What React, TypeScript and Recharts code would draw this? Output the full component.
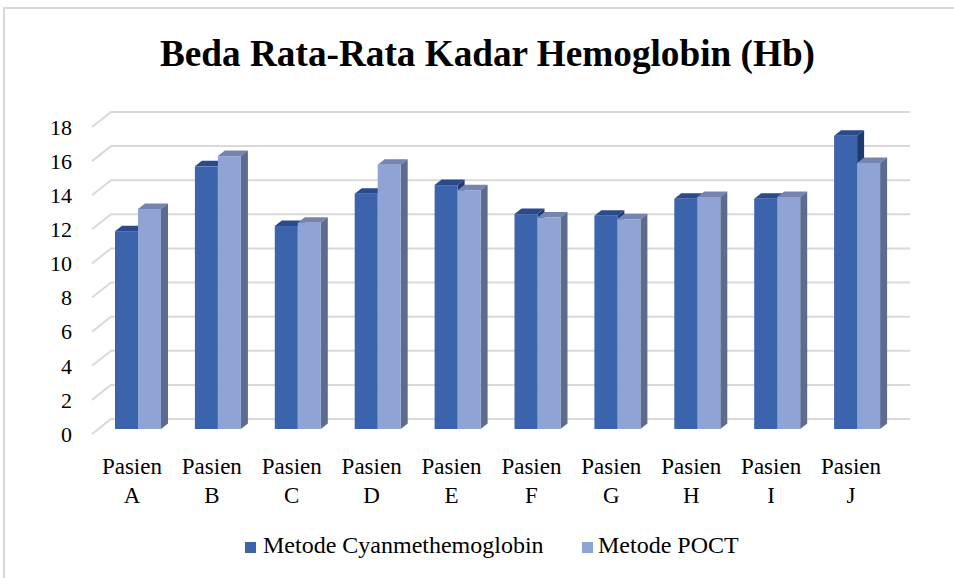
import { BarChart, Bar, XAxis, YAxis, CartesianGrid } from 'recharts';

const patients = ['A', 'B', 'C', 'D', 'E', 'F', 'G', 'H', 'I', 'J'];
const cyanmethemoglobin = [11.6, 15.4, 11.9, 13.8, 14.3, 12.6, 12.5, 13.5, 13.5, 17.2];
const poct = [12.9, 16.0, 12.1, 15.5, 14.0, 12.4, 12.3, 13.6, 13.6, 15.6];
const yTicks = [0, 2, 4, 6, 8, 10, 12, 14, 16, 18];
const seriesNames = ['Metode Cyanmethemoglobin', 'Metode POCT'];

const data = patients.map((p, i) => ({
  name: `Pasien ${p}`,
  cyan: cyanmethemoglobin[i],
  poct: poct[i],
}));

const FONT = '"Liberation Serif", "Times New Roman", serif';

// fake 3d: columns sit a bit behind the front plane
const SHIFT_X = 6;
const SHIFT_Y = 5;
const DEPTH_X = 7;
const DEPTH_Y = 5.5;
// back wall offset for gridlines
const WALL_X = 19;
const WALL_Y = 15;

function column(front: string, top: string, side: string) {
  return (props: any) => {
    const { x, y, width, height } = props;
    const fx = x + SHIFT_X;
    const fy = y - SHIFT_Y;
    return (
      <g>
        <polygon
          points={`${fx},${fy} ${fx + DEPTH_X},${fy - DEPTH_Y} ${fx + width + DEPTH_X},${fy - DEPTH_Y} ${fx + width},${fy}`}
          fill={top}
        />
        <polygon
          points={`${fx + width},${fy} ${fx + width + DEPTH_X},${fy - DEPTH_Y} ${fx + width + DEPTH_X},${fy + height - DEPTH_Y} ${fx + width},${fy + height}`}
          fill={side}
        />
        <rect x={fx} y={fy} width={width} height={height} fill={front} />
      </g>
    );
  };
}

const wallLine = (props: any) => {
  const { x1, y1, x2 } = props;
  return (
    <path
      key={`wall-${y1}`}
      d={`M${x1},${y1} L${x1 + WALL_X},${y1 - WALL_Y} L${x2 + WALL_X},${y1 - WALL_Y}`}
      stroke="#d9d9d9"
      strokeWidth={2}
      fill="none"
    />
  );
};

const CategoryTick = (props: any) => {
  const { x, y, payload } = props;
  const [word, letter] = String(payload.value).split(' ');
  return (
    <g>
      <text x={x} y={y + 40} textAnchor="middle" fontSize={23} fontFamily={FONT} fill="#000">
        {word}
      </text>
      <text x={x} y={y + 69} textAnchor="middle" fontSize={23} fontFamily={FONT} fill="#000">
        {letter}
      </text>
    </g>
  );
};

export default function App() {
  return (
    <div style={{ position: 'fixed', left: 0, top: 0, width: 954, height: 578, overflow: 'hidden', background: '#fff' }}>
      <div
        style={{
          position: 'absolute',
          left: 3,
          top: 7,
          width: 1000,
          height: 1000,
          border: '2px solid #d9d9d9',
        }}
      />
      <svg width={954} height={578} style={{ position: 'absolute', left: 0, top: 0 }}>
        <text
          x={487.5}
          y={66}
          textAnchor="middle"
          fontSize={38}
          fontWeight="bold"
          fontFamily={FONT}
          textLength={655}
          lengthAdjust="spacingAndGlyphs"
          fill="#000"
        >
          Beda Rata-Rata Kadar Hemoglobin (Hb)
        </text>
        <rect x={245} y={542} width={11} height={11} fill="#3c64ad" />
        <text x={263} y={553} fontSize={24} fontFamily={FONT} fill="#000">
          {seriesNames[0]}
        </text>
        <rect x={582} y={542} width={11} height={11} fill="#8fa3d5" />
        <text x={598} y={553} fontSize={24} fontFamily={FONT} fill="#000">
          {seriesNames[1]}
        </text>
      </svg>
      <div style={{ position: 'absolute', left: 0, top: 0 }}>
        <BarChart
          width={954}
          height={578}
          data={data}
          margin={{ top: 127, right: 63, bottom: 104, left: 0 }}
          barSize={23}
          barGap={0}
        >
          <CartesianGrid vertical={false} horizontal={wallLine} />
          <XAxis
            dataKey="name"
            height={40}
            axisLine={false}
            tickLine={false}
            tickSize={0}
            tickMargin={0}
            interval={0}
            tick={<CategoryTick />}
          />
          <YAxis
            width={92}
            domain={[0, 18]}
            ticks={yTicks}
            axisLine={false}
            tickLine={false}
            tickSize={0}
            tickMargin={20}
            tick={{ fill: '#000', fontSize: 22, fontFamily: FONT }}
          />
          <Bar
            dataKey="cyan"
            name={seriesNames[0]}
            fill="#3c64ad"
            isAnimationActive={false}
            shape={column('#3c64ad', '#2a4a8c', '#1f3a6e')}
          />
          <Bar
            dataKey="poct"
            name={seriesNames[1]}
            fill="#8fa3d5"
            isAnimationActive={false}
            shape={column('#8fa3d5', '#7585b0', '#5d6b8f')}
          />
        </BarChart>
      </div>
    </div>
  );
}
